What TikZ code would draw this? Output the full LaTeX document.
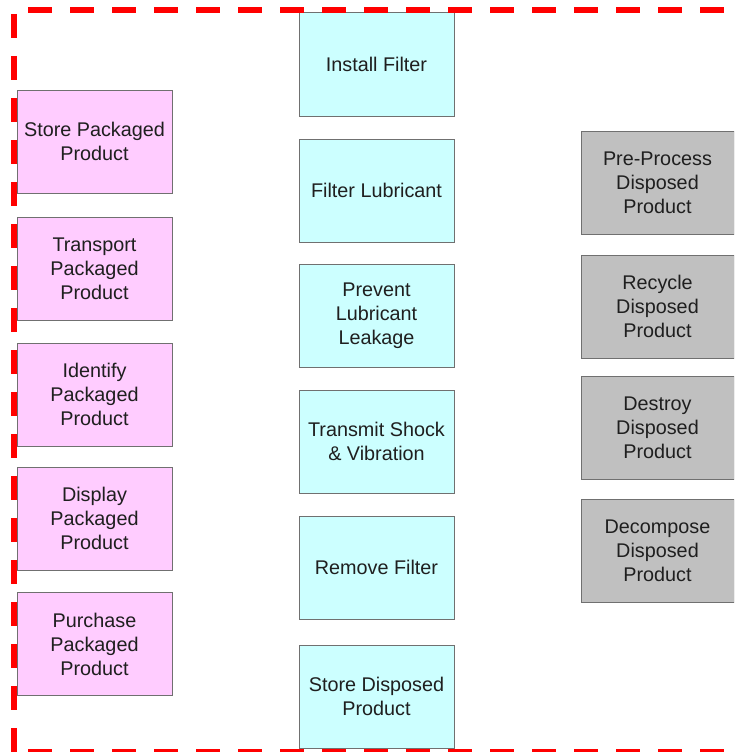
\documentclass[tikz,border=0pt]{standalone}
\usepackage{fontspec}
\setmainfont{Liberation Sans}
\usetikzlibrary{math}
\definecolor{pinkfill}{HTML}{FFCCFF}
\definecolor{cyanfill}{HTML}{CCFFFF}
\definecolor{greyfill}{HTML}{C0C0C0}
\definecolor{boxline}{HTML}{707070}
\definecolor{dashred}{HTML}{FF0000}

\begin{document}
\begin{tikzpicture}[x=1pt,y=-1pt,
	func/.style={draw=boxline, line width=1pt, minimum width=155pt, minimum height=103pt,
		align=center, inner sep=2pt, text=black!88, font=\fontsize{19.8}{24}\selectfont},
	packbox/.style={func, fill=pinkfill},
	lubebox/.style={func, fill=cyanfill},
	dispbox/.style={func, fill=greyfill, minimum width=153pt},
	border/.style={draw=dashred, line width=6pt, dash pattern=on 24pt off 18pt}]
	\tikzmath{\lx=94.5; \mx=376.5; \rx=657.5;
	\xlow=14; \xup=760; \ylow=10; \yup=752;}
	\useasboundingbox (0,0) rectangle (734,752);
	\clip (0,0) rectangle (734,752);

	% packaged product
	\node[packbox] (storepack) at (\lx, 141.5) {Store Packaged\\Product};
	\node[packbox] (transport) at (\lx, 268.5) {Transport\\Packaged\\Product};
	\node[packbox] (identify) at (\lx, 394.5) {Identify\\Packaged\\Product};
	\node[packbox] (display) at (\lx, 518.5) {Display\\Packaged\\Product};
	\node[packbox] (purchase) at (\lx, 644) {Purchase\\Packaged\\Product};

	% filter
	\node[lubebox] (install) at (\mx, 64.5) {Install Filter};
	\node[lubebox] (filter) at (\mx, 190.5) {Filter Lubricant};
	\node[lubebox] (prevent) at (\mx, 315.5) {Prevent\\Lubricant\\Leakage};
	\node[lubebox] (transmit) at (\mx, 441.5) {Transmit Shock\\\& Vibration};
	\node[lubebox] (remove) at (\mx, 567.5) {Remove Filter};
	\node[lubebox] (storedisp) at (\mx, 696.5) {Store Disposed\\Product};

	% disposed product
	\node[dispbox] (preproc) at (\rx, 183) {Pre-Process\\Disposed\\Product};
	\node[dispbox] (recycle) at (\rx, 306.5) {Recycle\\Disposed\\Product};
	\node[dispbox] (destroy) at (\rx, 427.5) {Destroy\\Disposed\\Product};
	\node[dispbox] (decompose) at (\rx, 551) {Decompose\\Disposed\\Product};

	\draw[border, dash phase=28pt] (\xlow, \ylow) -- (\xup, \ylow);
	\draw[border, dash phase=38pt] (\xlow, \ylow) -- (\xlow, \yup);
	\draw[border, dash phase=28pt] (\xlow, \yup) -- (\xup, \yup);
\end{tikzpicture}
\end{document}
